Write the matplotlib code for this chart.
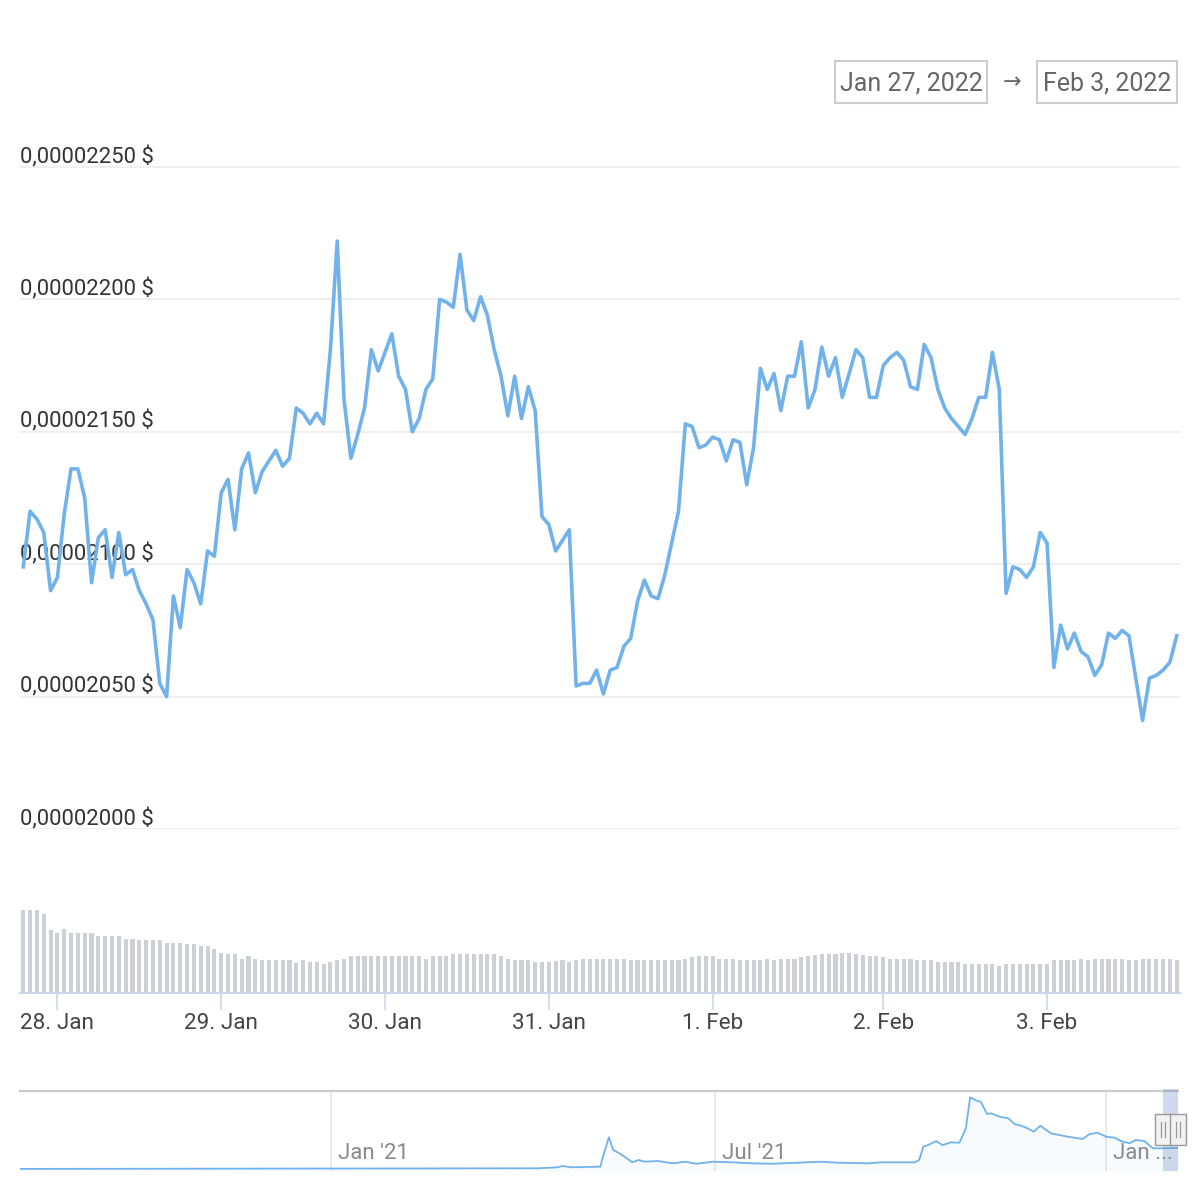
import numpy as np
import pandas as pd
import matplotlib
matplotlib.use("Agg")
import matplotlib.pyplot as plt
import matplotlib.dates as mdates
import matplotlib.transforms as mtransforms
from matplotlib.patches import Rectangle
from matplotlib.lines import Line2D

plt.rcParams['font.family'] = ['Roboto', 'DejaVu Sans']

# ---------------- data ----------------
# hourly price, in units of 1e-8 USD (ordinal x-axis: one point per hour)
price = [
    2099, 2120, 2117, 2112, 2090, 2095, 2119, 2136, 2136, 2125,
    2093, 2110, 2113, 2095, 2112, 2096, 2098, 2090, 2085, 2079,
    2055, 2050, 2088, 2076, 2098, 2093, 2085, 2105, 2103, 2127,
    2132, 2113, 2136, 2142, 2127, 2135, 2139, 2143, 2137, 2140,
    2159, 2157, 2153, 2157, 2153, 2181, 2222, 2162, 2140, 2149,
    2159, 2181, 2173, 2180, 2187,
    2171, 2166, 2150, 2155, 2166, 2170, 2200, 2199, 2197, 2217,
    2196, 2192, 2201, 2194, 2181, 2171, 2156, 2171, 2155, 2167,
    2158, 2118, 2115, 2105, 2109, 2113, 2054, 2055, 2055, 2060,
    2051, 2060, 2061, 2069, 2072, 2086, 2094, 2088, 2087, 2096,
    2108, 2120, 2153, 2152, 2144, 2145, 2148, 2147, 2139, 2147,
    2146, 2130, 2144, 2174, 2166, 2172,
    2158, 2171, 2171, 2184, 2159, 2166, 2182, 2171, 2178, 2163,
    2172, 2181, 2178, 2163, 2163, 2175, 2178, 2180, 2177, 2167,
    2166, 2183, 2178, 2166, 2159, 2155, 2152, 2149, 2155, 2163,
    2163, 2180, 2166, 2089, 2099, 2098, 2095, 2099, 2112, 2108,
    2061, 2077, 2068, 2074, 2067, 2065, 2058, 2062, 2074, 2072,
    2075, 2073, 2057, 2041, 2057, 2058, 2060, 2063, 2073,
]

# relative hourly volume
volume = [
    82.7, 82.7, 82.7, 78.7, 62.7, 60.3, 64.3, 60.3, 60.3, 60.3,
    60.3, 56.7, 56.7, 56.7, 56.7, 54.3, 54.3, 52.7, 52.7, 52.7,
    52.7, 50.3, 50.3, 50.3, 48.7, 48.7, 46.7, 46.7, 44.3, 40.3,
    38.7, 38.7, 34.3, 36.7, 34.3, 32.7, 32.7, 32.7, 32.7, 32.7,
    30.3, 32.7, 31.0, 31.0, 28.7, 31.0, 32.7, 34.3, 36.7, 36.7,
    36.7, 36.7, 36.7, 36.7, 36.7,
    36.7, 36.7, 36.7, 36.7, 34.3, 36.7, 36.7, 36.7, 38.7, 38.7,
    38.7, 38.7, 38.7, 38.7, 38.7, 36.7, 34.3, 32.7, 32.7, 32.7,
    30.7, 30.7, 30.7, 31.7, 32.7, 30.7, 32.7, 34.3, 34.3, 34.3,
    34.3, 34.3, 34.3, 34.3, 32.7, 32.7, 32.7, 32.7, 32.7, 32.7,
    32.7, 32.7, 34.3, 36.0, 36.7, 36.7, 36.7, 34.3, 34.3, 34.3,
    32.7, 32.7, 32.7, 32.7, 34.3, 32.7, 34.3, 34.3, 34.3,
    36.0, 36.7, 37.7, 38.7, 39.3, 38.7, 40.3, 40.0, 38.7, 37.7,
    36.7, 36.7, 36.0, 34.3, 34.3, 34.3, 34.3, 33.3, 32.7, 32.7,
    30.7, 30.7, 30.7, 30.7, 29.3, 29.3, 29.3, 28.7, 28.7, 26.7,
    28.7, 29.3, 29.3, 29.3, 28.7, 28.7, 29.3, 32.7, 32.7, 32.7,
    32.7, 34.3, 32.7, 34.3, 34.3, 34.3, 34.3, 34.3, 32.7, 32.7,
    34.3, 34.3, 34.3, 34.3, 34.3, 32.7,
]

y_ticks = [2000, 2050, 2100, 2150, 2200, 2250]
y_tick_labels = ['0,00002000 $', '0,00002050 $', '0,00002100 $',
                 '0,00002150 $', '0,00002200 $', '0,00002250 $']

# ordinal x axis: ticks sit on the first point of each day
x_tick_index = [5, 29, 53, 77, 101, 126, 150]
x_tick_labels = ['28. Jan', '29. Jan', '30. Jan', '31. Jan', '1. Feb', '2. Feb', '3. Feb']

# navigator (full history), units of 1e-8 USD
nav_dates = ['2020-08-07 20:00', '2021-04-09 00:00', '2021-04-18 00:00', '2021-04-20 00:00',
             '2021-04-24 00:00', '2021-05-08 00:00', '2021-05-09 00:00', '2021-05-12 00:00',
             '2021-05-14 00:00', '2021-05-17 00:00', '2021-05-20 00:00', '2021-05-23 00:00',
             '2021-05-26 00:00', '2021-05-29 00:00', '2021-06-04 00:00', '2021-06-11 00:00',
             '2021-06-17 00:00', '2021-06-22 00:00', '2021-06-30 00:00', '2021-07-09 00:00',
             '2021-07-18 00:00', '2021-07-28 00:00', '2021-08-09 00:00', '2021-08-19 00:00',
             '2021-08-28 00:00', '2021-09-11 00:00', '2021-09-17 00:00', '2021-10-03 00:00',
             '2021-10-05 00:00', '2021-10-07 00:00', '2021-10-10 00:00', '2021-10-13 00:00',
             '2021-10-16 00:00', '2021-10-20 00:00', '2021-10-24 00:00', '2021-10-27 00:00',
             '2021-10-29 00:00', '2021-11-01 00:00', '2021-11-03 00:00', '2021-11-06 00:00',
             '2021-11-08 00:00', '2021-11-11 00:00', '2021-11-13 00:00', '2021-11-16 00:00',
             '2021-11-19 00:00', '2021-11-22 00:00', '2021-11-25 00:00', '2021-11-28 00:00',
             '2021-12-01 00:00', '2021-12-06 00:00', '2021-12-10 00:00', '2021-12-14 00:00',
             '2021-12-21 00:00', '2021-12-24 00:00', '2021-12-28 00:00', '2022-01-01 00:00',
             '2022-01-05 00:00', '2022-01-08 00:00', '2022-01-12 00:00', '2022-01-15 00:00',
             '2022-01-19 00:00', '2022-01-23 00:00', '2022-01-27 00:00', '2022-02-03 20:00']
nav_values = [10, 70, 170, 300, 170,
              230, 1085, 3125, 1875, 1550,
              1115, 660, 890, 720, 790,
              560, 720, 520, 720, 660,
              560, 520, 620, 720, 620,
              560, 660, 660, 890, 2200,
              2435, 2760, 2365, 2630, 2595,
              4015, 7070, 6735, 6630, 5425,
              5490, 5225, 5100, 5000, 4410,
              4270, 4015, 3680, 4270, 3520,
              3350, 3185, 2960, 3420, 3580,
              3185, 3085, 2760, 2535, 2860,
              2760, 2040, 2040, 2070]
nav_tick_dates = ['2021-01-01', '2021-07-01', '2022-01-01']
nav_tick_labels = ["Jan '21", "Jul '21", "Jan ..."]
nav_range = ['2020-08-07 20:00', '2022-02-03 20:00']
selected_range = ['2022-01-27 19:00', '2022-02-03 20:00']

range_labels = ['Jan 27, 2022', 'Feb 3, 2022']

# ---------------- figure ----------------
W = H = 1200
fig = plt.figure(figsize=(W / 100, H / 100), dpi=100)
fig.patch.set_facecolor('white')


def px_rect(x0, y0, x1, y1):
    return [x0 / W, 1 - y1 / H, (x1 - x0) / W, (y1 - y0) / H]


LINE = '#72b2eb'
GRID = '#eeeeee'
AXC = '#ccd6eb'

x = np.arange(len(price))
xlim = (-0.48, len(price) - 1 + 0.48)

# price pane
ymin, ymax = 2000, 2260
px_per_unit = (829 - 167) / 250
top_px = 829 - (ymax - ymin) * px_per_unit
ax = fig.add_axes(px_rect(20, top_px, 1180, 829))
ax.set_xlim(*xlim)
ax.set_ylim(ymin, ymax)
ax.axis('off')
for v in y_ticks:
    ax.axhline(v, color=GRID, lw=1.3, zorder=1)
lab_tr = mtransforms.offset_copy(
    mtransforms.blended_transform_factory(ax.transAxes, ax.transData),
    fig=fig, x=0, y=4, units='dots')
for v, s in zip(y_ticks, y_tick_labels):
    ax.text(0, v, s, transform=lab_tr, ha='left', va='baseline',
            fontsize=15.9, color='#333333', zorder=2)
ax.plot(x, price, color=LINE, lw=2.6, solid_joinstyle='round', zorder=3)

# volume pane
axv = fig.add_axes(px_rect(20, 900, 1180, 993))
axv.set_xlim(*xlim)
axv.set_ylim(0, 93)
axv.bar(x, volume, width=0.6, color='#cdd0d6', linewidth=0)
for s in ['left', 'right', 'top']:
    axv.spines[s].set_visible(False)
axv.spines['bottom'].set_color(AXC)
axv.spines['bottom'].set_linewidth(1.5)
axv.set_yticks([])
axv.set_xticks(x_tick_index)
axv.set_xticklabels(x_tick_labels)
axv.tick_params(axis='x', length=12, width=1.2, color=AXC, labelcolor='#444444',
                labelsize=16.2, pad=2.5)

# navigator
axn = fig.add_axes(px_rect(20, 1091, 1178, 1171))
nd = pd.to_datetime(nav_dates, format='%Y-%m-%d %H:%M')
axn.set_xlim(pd.to_datetime(nav_range[0]), pd.to_datetime(nav_range[1]))
axn.set_ylim(-197, 7690)
for s in ['left', 'right', 'bottom']:
    axn.spines[s].set_visible(False)
axn.spines['top'].set_color('#cccccc')
axn.spines['top'].set_linewidth(1.6)
axn.set_xticks([])
axn.set_yticks([])
nav_lab_tr = mtransforms.offset_copy(axn.get_xaxis_transform(), fig=fig,
                                     x=7, y=0, units='dots')
for d, s in zip(nav_tick_dates, nav_tick_labels):
    dt = pd.to_datetime(d)
    axn.axvline(dt, color='#e6e6e6', lw=1.2, zorder=1)
    axn.text(dt, 0.22, s, transform=nav_lab_tr,
             ha='left', va='center', fontsize=16, color='#8a8a8a', zorder=2)
axn.fill_between(nd, nav_values, -197, color=LINE, alpha=0.05, lw=0, zorder=2)
axn.plot(nd, nav_values, color=LINE, lw=1.3, zorder=3)

s0 = mdates.date2num(pd.to_datetime(selected_range[0]))
s1 = mdates.date2num(pd.to_datetime(selected_range[1]))
axn.add_patch(Rectangle((s0, 0), s1 - s0, 1.02,
                        transform=axn.get_xaxis_transform(),
                        facecolor='#6685c2', alpha=0.3, lw=0, zorder=4,
                        clip_on=False))

# navigator handles
fig.canvas.draw()
for sx in (s0, s1):
    xpx = axn.transData.transform((sx, 0))[0]
    hx0 = xpx - 8
    fig.patches.append(Rectangle((hx0 / W, 1 - 1145 / H), 16 / W, 31 / H,
                                 transform=fig.transFigure, facecolor='#f2f2f2',
                                 edgecolor='#999999', lw=1.0, zorder=10))
    for dx in (-2, 2):
        fig.lines.append(Line2D([(xpx + dx) / W] * 2,
                                [1 - 1122 / H, 1 - 1137 / H],
                                transform=fig.transFigure, color='#999999',
                                lw=0.9, zorder=11))

# date range boxes
boxes = [(835, 987), (1037, 1177)]
for (bx0, bx1), s in zip(boxes, range_labels):
    fig.patches.append(Rectangle((bx0 / W, 1 - 103 / H), (bx1 - bx0) / W, 42 / H,
                                 transform=fig.transFigure, facecolor='white',
                                 edgecolor='#cccccc', lw=1.5))
    fig.text((bx0 + bx1) / 2 / W, 1 - 83 / H, s, ha='center', va='center',
             fontsize=18, color='#666666')
fig.text(1012 / W, 1 - 83 / H, '→', ha='center', va='center',
         fontsize=16, color='#666666')

fig.savefig('out.png', dpi=100, facecolor='white')
